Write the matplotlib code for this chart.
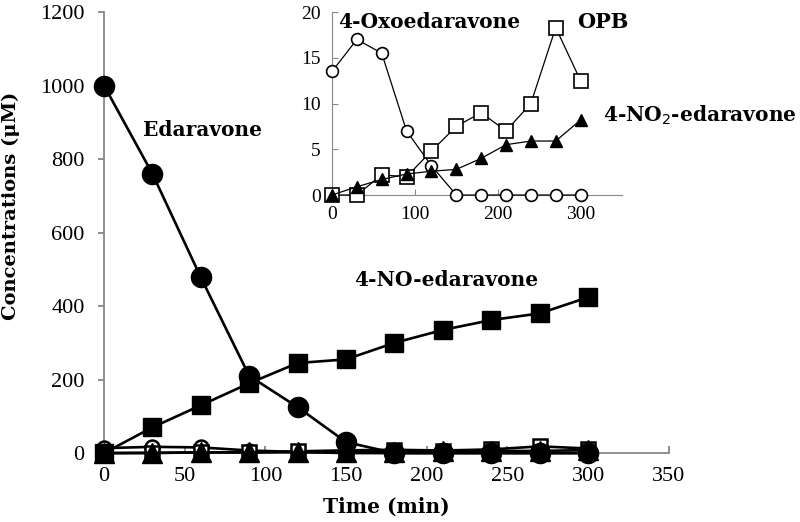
import matplotlib.pyplot as plt

# --- DATA ---
time_min = [0, 30, 60, 90, 120, 150, 180, 210, 240, 270, 300]
edaravone = [1000, 760, 478, 210, 125, 30, 0, 0, 0, 0, 0]
no_edaravone = [0, 70, 130, 190, 245, 255, 300, 335, 362, 380, 424]
oxo_edaravone = [13.5, 17, 15.5, 7, 3.2, 0, 0, 0, 0, 0, 0]
opb = [0, 0, 2.2, 2, 4.8, 7.5, 9, 7, 10, 18.3, 12.5]
no2_edaravone = [0, 0.9, 1.7, 2.3, 2.6, 2.8, 4.0, 5.5, 5.9, 5.9, 8.2]

SERIF = ['Liberation Serif', 'DejaVu Serif']
BOLD = ['DejaVu Serif']
GREY = '#888888'

fig = plt.figure(figsize=(8, 5.22), dpi=100)

# --- main axes ---
ax = fig.add_axes([0.13, 0.132, 0.706, 0.845])
lw = 1.9
ax.plot(time_min, oxo_edaravone, color='black', lw=lw, marker='o', ms=10,
        mfc='white', mec='black', mew=1.8, zorder=3, clip_on=False)
ax.plot(time_min, opb, color='black', lw=lw, marker='s', ms=10,
        mfc='white', mec='black', mew=1.8, zorder=3, clip_on=False)
ax.plot(time_min, no2_edaravone, color='black', lw=lw, marker='^', ms=14,
        mfc='black', mec='black', zorder=3, clip_on=False)
ax.plot(time_min, no_edaravone, color='black', lw=lw, marker='s', ms=13.5,
        mfc='black', mec='black', zorder=4, clip_on=False)
ax.plot(time_min, edaravone, color='black', lw=lw, marker='o', ms=14.5,
        mfc='black', mec='black', zorder=4, clip_on=False)

ax.set_xlim(0, 350)
ax.set_ylim(0, 1200)
ax.set_xticks(range(0, 351, 50))
ax.set_yticks(range(0, 1201, 200))
for s in ['top', 'right']:
    ax.spines[s].set_visible(False)
for s in ['left', 'bottom']:
    ax.spines[s].set_color(GREY)
    ax.spines[s].set_linewidth(1.3)
ax.tick_params(axis='y', direction='out', colors=GREY, length=4, width=1.3,
               labelcolor='black', pad=10)
ax.tick_params(axis='x', direction='in', colors=GREY, length=5, width=1.3,
               labelcolor='black', pad=10)
for lab in ax.get_xticklabels() + ax.get_yticklabels():
    lab.set_fontfamily(SERIF)
    lab.set_fontsize(16)
ax.set_xlabel('Time (min)', fontfamily=BOLD, fontweight='bold', fontsize=14.5,
              labelpad=8)
fig.text(11 / 800, 1 - 206 / 522, 'Concentrations (\u03bcM)', rotation=90,
         ha='center', va='center', fontfamily=BOLD, fontweight='bold',
         fontsize=14)

ax.text(61, 879, 'Edaravone', ha='center', va='center', fontfamily=BOLD,
        fontweight='bold', fontsize=14.5)
ax.text(212, 471, '4-NO-edaravone', ha='center', va='center', fontfamily=BOLD,
        fontweight='bold', fontsize=14.5)

# --- inset ---
ins = fig.add_axes([0.415, 0.6264, 0.3625, 0.3506])
ins.plot(time_min, oxo_edaravone, color='black', lw=0.9, marker='o', ms=8.5,
         mfc='white', mec='black', mew=1.2, zorder=3, clip_on=False)
ins.plot(time_min, opb, color='black', lw=0.9, marker='s', ms=10.5,
         mfc='white', mec='black', mew=1.2, zorder=3, clip_on=False)
ins.plot(time_min, no2_edaravone, color='black', lw=0.9, marker='^', ms=8,
         mfc='black', mec='black', zorder=4, clip_on=False)
ins.set_xlim(0, 350)
ins.set_ylim(0, 20)
ins.set_xticks([0, 100, 200, 300])
ins.set_yticks([0, 5, 10, 15, 20])
for s in ['top', 'right']:
    ins.spines[s].set_visible(False)
for s in ['left', 'bottom']:
    ins.spines[s].set_color(GREY)
ins.tick_params(direction='in', colors=GREY, length=4, labelcolor='black',
                pad=8)
for lab in ins.get_xticklabels() + ins.get_yticklabels():
    lab.set_fontfamily(SERIF)
    lab.set_fontsize(14)
ins.patch.set_alpha(0)

ins.text(117, 18.9, '4-Oxoedaravone', ha='center', va='center', fontfamily=BOLD,
         fontweight='bold', fontsize=14.5, clip_on=False)
ins.text(327, 18.9, 'OPB', ha='center', va='center', fontfamily=BOLD,
         fontweight='bold', fontsize=15, clip_on=False)
ins.text(444, 8.7, '4-NO$_2$-edaravone', ha='center', va='center',
         fontfamily=BOLD, fontweight='bold', fontsize=14.5, clip_on=False)

fig.savefig('out.png', dpi=100)
